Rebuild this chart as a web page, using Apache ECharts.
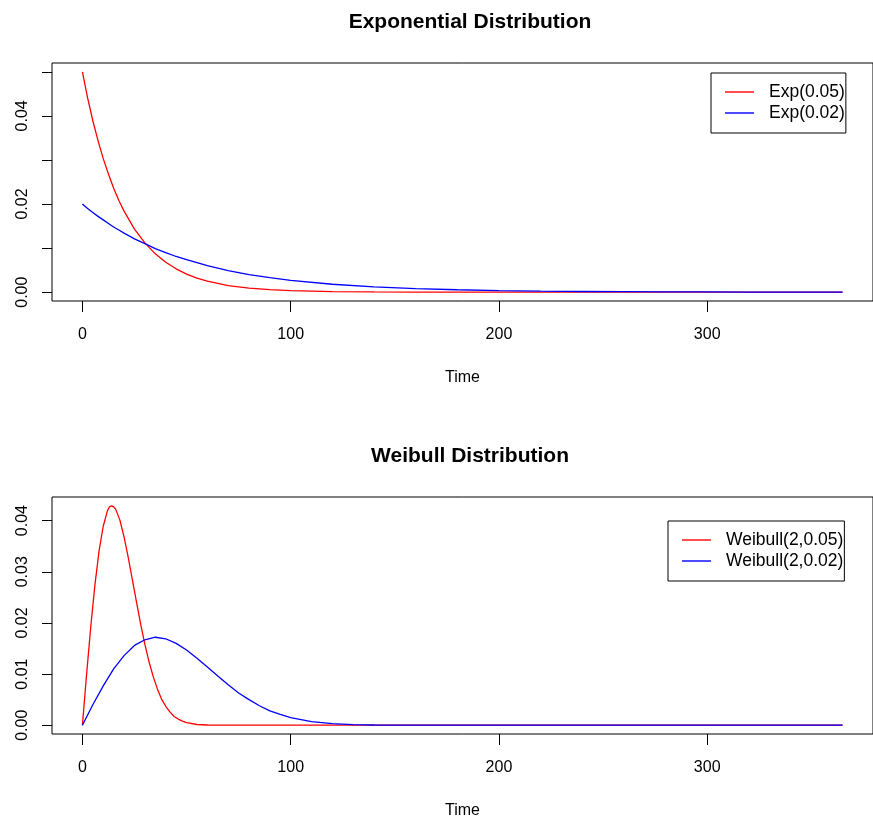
<!DOCTYPE html>
<html>
<head>
<meta charset="utf-8">
<script src="https://cdn.jsdelivr.net/npm/echarts@6/dist/echarts.min.js"></script>
<style>
  html, body { margin: 0; padding: 0; background: #fff; }
  #chart { width: 873px; height: 824px; }
</style>
</head>
<body>
<div id="chart"></div>
<script>
  // Exponential panel: time points and densities
  const expTime = [0, 2.5, 5, 7.5, 10, 12.5, 15, 17.5, 20, 25, 30, 35, 40, 45, 50, 55, 60, 70, 80, 90, 100,
                   120, 140, 160, 180, 200, 220, 240, 260, 280, 300, 320, 340, 365];
  const exp005 = [0.0500, 0.0441, 0.0389, 0.0344, 0.0303, 0.0268, 0.0236, 0.0208, 0.0184, 0.0143,
                  0.0112, 0.0087, 0.0068, 0.0053, 0.0041, 0.0032, 0.0025, 0.0015, 0.0009, 0.00056, 0.00034,
                  0.00012, 0.00005, 0.00002, 0.00001, 0, 0, 0, 0, 0, 0, 0, 0, 0];
  const exp002 = [0.0200, 0.0190, 0.0181, 0.0172, 0.0164, 0.0156, 0.0148, 0.0141, 0.0134, 0.0121,
                  0.0110, 0.0099, 0.0090, 0.0081, 0.0074, 0.0067, 0.0060, 0.0049, 0.0040, 0.0033, 0.0027,
                  0.0018, 0.0012, 0.00082, 0.00055, 0.00037, 0.00025, 0.00016, 0.00011, 0.00007,
                  0.00005, 0.00003, 0.00002, 0.00001];

  // Weibull panel
  const weibTimeA = [0, 2, 4, 6, 8, 10, 12, 13, 14, 15, 16, 18, 20, 22, 24, 26, 28, 30, 32, 34, 36, 38,
                     40, 42, 44, 46, 48, 50, 55, 60, 70, 100, 200, 300, 365];
  const weib005 = [0, 0.0099, 0.0192, 0.0274, 0.0341, 0.0389, 0.0419, 0.0427, 0.0429, 0.0427, 0.0422, 0.0401,
                   0.0368, 0.0328, 0.0284, 0.0240, 0.0197, 0.0158, 0.0124, 0.0095, 0.0071, 0.0051,
                   0.0037, 0.0026, 0.0017, 0.0012, 0.0008, 0.0005, 0.00014, 0.00004, 0, 0, 0, 0, 0];
  const weibTimeB = [0, 5, 10, 15, 20, 25, 30, 35, 40, 45, 50, 55, 60, 65, 70, 75, 80, 85, 90, 95,
                     100, 110, 120, 130, 140, 150, 160, 200, 300, 365];
  const weib002 = [0, 0.0040, 0.0077, 0.0110, 0.0136, 0.0156, 0.0167, 0.0172, 0.0169, 0.0160,
                   0.0147, 0.0131, 0.0114, 0.0096, 0.0079, 0.0063, 0.0050, 0.0038, 0.0028, 0.0021,
                   0.0015, 0.0007, 0.0003, 0.00012, 0.00004, 0.00001, 0, 0, 0, 0];

  const timeTicks = [0, 100, 200, 300];
  const expTicks = [0, 0.01, 0.02, 0.03, 0.04, 0.05];
  const expLabels = [0, 0.02, 0.04];
  const weibTicks = [0, 0.01, 0.02, 0.03, 0.04];

  const font = 'Liberation Sans, Arial, Helvetica, sans-serif';

  function pairs(xs, ys) {
    return xs.map((x, i) => [x, ys[i]]);
  }

  function xAxisFor(gridIndex) {
    return {
      type: 'value', gridIndex: gridIndex,
      min: -14.6, max: 379.6,
      name: 'Time', nameLocation: 'middle', nameGap: 69,
      nameTextStyle: { color: '#000', fontSize: 16, fontFamily: font },
      axisLine: { show: false, onZero: false },
      axisTick: { show: true, inside: false, length: 11, customValues: timeTicks,
                  lineStyle: { color: '#000', width: 1 } },
      axisLabel: { customValues: timeTicks, margin: 26, color: '#000', fontSize: 16, fontFamily: font },
      splitLine: { show: false }
    };
  }

  function yAxisFor(gridIndex, min, max, ticks, labels) {
    return {
      type: 'value', gridIndex: gridIndex,
      min: min, max: max,
      axisLine: { show: false, onZero: false },
      axisTick: { show: true, inside: false, length: 10, customValues: ticks,
                  lineStyle: { color: '#000', width: 1 } },
      axisLabel: { customValues: labels, rotate: 90, margin: 21, color: '#000', fontSize: 16,
                   fontFamily: font, formatter: v => v.toFixed(2) },
      splitLine: { show: false }
    };
  }

  function legendFor(names, left, top) {
    return {
      data: names, orient: 'vertical', left: left, top: top,
      icon: 'rect', itemWidth: 29, itemHeight: 1.4, itemGap: 3,
      padding: [10, 1, 11, 14],
      borderColor: '#000', borderWidth: 1, borderRadius: 0,
      backgroundColor: '#fff',
      textStyle: { color: '#000', fontSize: 17.5, fontFamily: font, padding: [0, 0, 0, 10] }
    };
  }

  function line(name, xi, data, color) {
    return {
      name: name, type: 'line', xAxisIndex: xi, yAxisIndex: xi,
      data: data, showSymbol: false, smooth: false,
      lineStyle: { color: color, width: 1.3 }, itemStyle: { color: color }
    };
  }

  const chart = echarts.init(document.getElementById('chart'));
  chart.setOption({
    animation: false,
    backgroundColor: '#fff',
    title: [
      { text: 'Exponential Distribution', left: 465, top: 7, textAlign: 'center',
        textStyle: { fontSize: 21, fontWeight: 'bold', color: '#000', fontFamily: font } },
      { text: 'Weibull Distribution', left: 465, top: 441, textAlign: 'center',
        textStyle: { fontSize: 21, fontWeight: 'bold', color: '#000', fontFamily: font } }
    ],
    legend: [
      legendFor(['Exp(0.05)', 'Exp(0.02)'], 711, 73),
      legendFor(['Weibull(2,0.05)', 'Weibull(2,0.02)'], 668, 521)
    ],
    grid: [
      { left: 52, top: 63, width: 825, height: 238, show: true, borderColor: '#000', borderWidth: 1 },
      { left: 52, top: 497, width: 825, height: 237, show: true, borderColor: '#000', borderWidth: 1 }
    ],
    xAxis: [xAxisFor(0), xAxisFor(1)],
    yAxis: [
      yAxisFor(0, -0.002, 0.052, expTicks, expLabels),
      yAxisFor(1, -0.00172, 0.04462, weibTicks, weibTicks)
    ],
    series: [
      line('Exp(0.05)', 0, pairs(expTime, exp005), '#ff0000'),
      line('Exp(0.02)', 0, pairs(expTime, exp002), '#0000ff'),
      line('Weibull(2,0.05)', 1, pairs(weibTimeA, weib005), '#ff0000'),
      line('Weibull(2,0.02)', 1, pairs(weibTimeB, weib002), '#0000ff')
    ]
  });
</script>
</body>
</html>
